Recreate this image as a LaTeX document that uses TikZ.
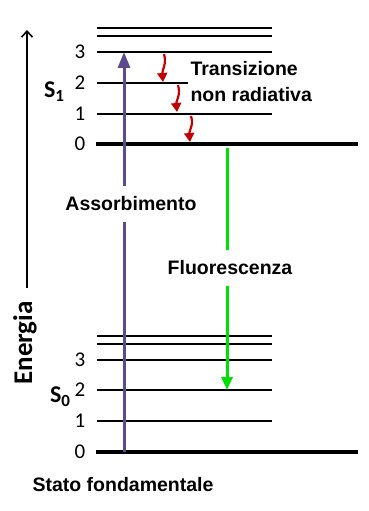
\documentclass[tikz,border=0pt]{standalone}
\usepackage{fontspec}
\setmainfont{Liberation Sans}
\newfontfamily\calib{Carlito}
\usetikzlibrary{arrows.meta}

\definecolor{absviolet}{HTML}{5E4B8B}
\definecolor{fluogreen}{HTML}{00E000}
\definecolor{nrred}{HTML}{C00000}

\tikzset{
  level/.style={line width=2pt, black},
  ground/.style={line width=4pt, black},
  lvnum/.style={font=\calib\fontsize{21}{21}\selectfont},
  statelabel/.style={font=\calib\bfseries\fontsize{24}{24}\selectfont},
  biglabel/.style={font=\bfseries\fontsize{19.5}{26}\selectfont},
  gaplabel/.style={biglabel, fill=white, inner xsep=1pt, inner ysep=11pt},
  nrarrow/.style={line width=2.2pt, nrred, -{Triangle[length=9pt,width=10pt]}}
}

\begin{document}
\begin{tikzpicture}[x=1pt, y=-1pt, >=latex]
  \useasboundingbox (0,0) rectangle (368,511);

  % Energy axis
  \coordinate (ax-lo) at (27,288);
  \coordinate (ax-hi) at (27,30);
  \draw[line width=2pt, -{Straight Barb[length=6pt,width=11pt,line width=1.6pt]}] (ax-lo) -- (ax-hi);
  \node[statelabel, font=\calib\bfseries\fontsize{27}{27}\selectfont, rotate=90] (energia) at (25,343) {Energia};

  % S1 levels
  \foreach \y in {28,36,52,114} {
    \draw[level] (97,\y) -- (272,\y);
  }
  \draw[level] (97,83) -- (188,83);
  \draw[ground] (96,144) -- (358,144);

  % S0 levels
  \foreach \y in {336,344,360,390,421} {
    \draw[level] (97,\y) -- (272,\y);
  }
  \draw[ground] (96,452) -- (358,452);

  % Level numbers
  \foreach \n/\y in {3/52, 2/83, 1/114, 0/144} {
    \node[lvnum] (sa-\n) at (80,\y) {\n};
  }
  \foreach \n/\y in {3/360, 2/390, 1/421, 0/452} {
    \node[lvnum] (sb-\n) at (80,\y) {\n};
  }
  \node[statelabel] (s1) at (54,92) {S\raisebox{-0.35ex}{\fontsize{17}{17}\selectfont 1}};
  \node[statelabel] (s0) at (60,397) {S\raisebox{-0.35ex}{\fontsize{17}{17}\selectfont 0}};

  % Absorption
  \coordinate (abs-lo) at (124,452);
  \coordinate (abs-hi) at (124,52);
  \draw[line width=3pt, absviolet, -{Triangle[length=16pt,width=12pt]}] (abs-lo) -- (abs-hi);
  \node[gaplabel] (assorb) at (131,204) {Assorbimento};

  % Fluorescence
  \coordinate (fl-hi) at (227,148);
  \coordinate (fl-lo) at (227,390);
  \draw[line width=3pt, fluogreen, -{Triangle[length=13pt,width=11pt]}] (fl-hi) -- (fl-lo);
  \node[gaplabel] (fluo) at (230,268) {Fluorescenza};

  % Non radiative relaxation
  \coordinate (nr1-a) at (164,54);
  \coordinate (nr1-b) at (163,82);
  \coordinate (nr2-a) at (178,85);
  \coordinate (nr2-b) at (177,112);
  \coordinate (nr3-a) at (191,116);
  \coordinate (nr3-b) at (190,142);
  \draw[nrarrow] (nr1-a) .. controls (167,64) and (162,70) .. (nr1-b);
  \draw[nrarrow] (nr2-a) .. controls (181,95) and (176,101) .. (nr2-b);
  \draw[nrarrow] (nr3-a) .. controls (194,125) and (189,131) .. (nr3-b);
  \node[biglabel, anchor=west, align=left] (nonrad) at (187,82) {Transizione\\non radiativa};

  \node[biglabel] (fondam) at (123,485) {Stato fondamentale};
\end{tikzpicture}
\end{document}
